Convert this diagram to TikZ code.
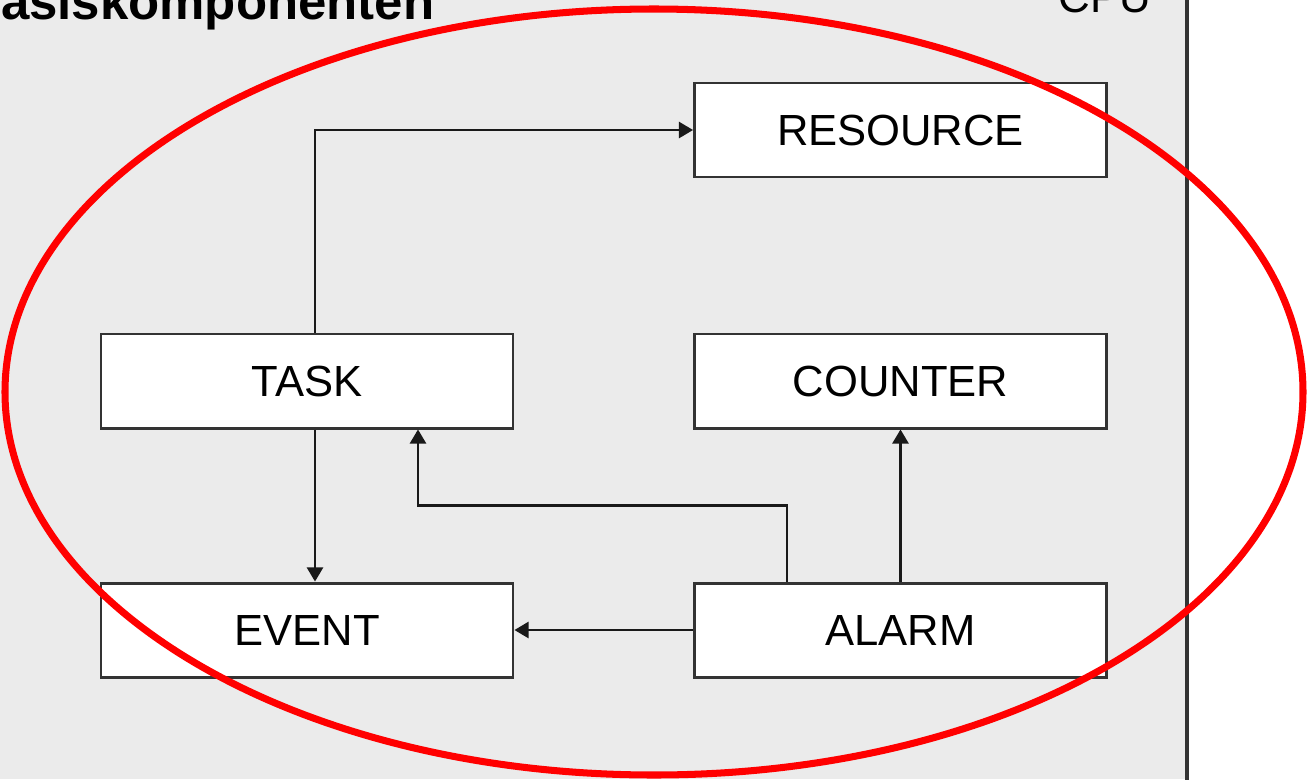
\documentclass[tikz,border=0pt]{standalone}
\usepackage{fontspec}
\setmainfont{Liberation Sans}
\usetikzlibrary{arrows.meta}
\definecolor{panel}{HTML}{EBEBEB}
\definecolor{edge}{HTML}{333333}
\tikzset{
  comp/.style={draw=edge, line width=0.85pt, fill=white, minimum width=4.12cm,
    minimum height=0.94cm, inner sep=0pt, font=\fontsize{12.4}{14}\selectfont},
  link/.style={draw=black!90, line width=0.6pt, -{Triangle[length=4pt,width=4.6pt]}},
}
\begin{document}
\begin{tikzpicture}
\useasboundingbox (0,0) rectangle (13.07,-7.79);
\clip (0,0) rectangle (13.07,-7.79);
% container panel
\fill[panel] (0,0) rectangle (11.87,-7.79);
\draw[edge, line width=0.9pt] (11.87,0.1) -- (11.87,-7.9);
\node[anchor=base east, font=\bfseries\fontsize{14.5}{17}\selectfont, inner sep=0pt] (title) at (4.35,-0.19) {Basiskomponenten};
\node[anchor=base east, font=\fontsize{12.5}{15}\selectfont, inner sep=0pt] (cpu) at (11.52,-0.12) {CPU};
% components
\node[comp] (resource) at (9.005,-1.30) {RESOURCE};
\node[comp] (task)     at (3.07,-3.81)  {TASK};
\node[comp] (counter)  at (9.005,-3.81) {COUNTER};
\node[comp] (event)    at (3.07,-6.30)  {EVENT};
\node[comp] (alarm)    at (9.005,-6.30) {ALARM};
% relations
\draw[link] ([xshift=0.08cm]task.north) |- (resource.west);
\draw[link] ([xshift=0.08cm]task.south) -- ([xshift=0.08cm]event.north);
\draw[link] ([xshift=-1.135cm]alarm.north) -- ++(0,0.76) -| ([xshift=1.11cm]task.south);
\draw[link] (alarm.north) -- (counter.south);
\draw[link] (alarm.west) -- (event.east);
% highlight
\draw[red, line width=2pt] (6.54,-3.92) ellipse [x radius=6.49cm, y radius=3.83cm];
\end{tikzpicture}
\end{document}
